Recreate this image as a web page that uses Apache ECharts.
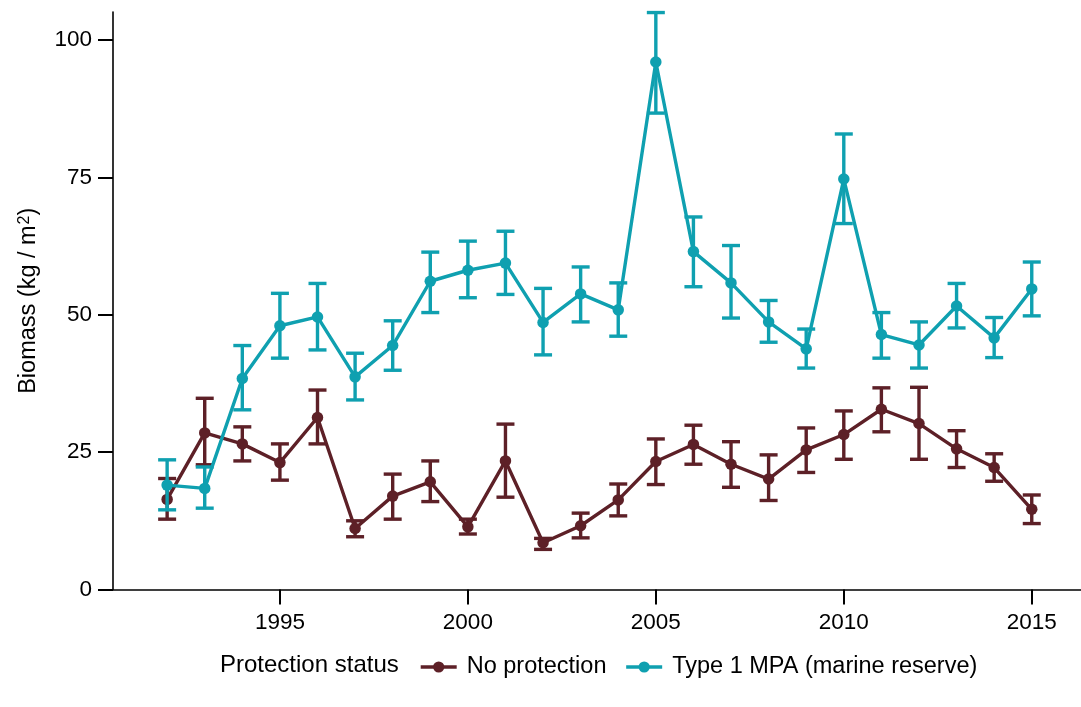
<!DOCTYPE html>
<html>
<head>
<meta charset="utf-8">
<script src="https://cdn.jsdelivr.net/npm/echarts@6/dist/echarts.min.js"></script>
<style>
  html, body { margin: 0; padding: 0; background: #fff; }
  #chart { width: 1081px; height: 707px; }
</style>
</head>
<body>
<div id="chart"></div>
<script>
// Survey years
const years = [1992, 1993, 1994, 1995, 1996, 1997, 1998, 1999, 2000, 2001, 2002, 2003,
               2004, 2005, 2006, 2007, 2008, 2009, 2010, 2011, 2012, 2013, 2014, 2015];

// No protection: mean biomass and error bar limits (kg / m²)
const noProtMean  = [16.4, 28.5, 26.5, 23.1, 31.3, 11.1, 17.0, 19.6, 11.4, 23.4, 8.5, 11.6,
                     16.3, 23.3, 26.4, 22.8, 20.1, 25.4, 28.2, 32.8, 30.2, 25.6, 22.2, 14.6];
const noProtUpper = [20.2, 34.8, 29.6, 26.5, 36.3, 12.5, 21.0, 23.4, 12.8, 30.1, 9.3, 13.9,
                     19.2, 27.4, 29.9, 26.9, 24.5, 29.4, 32.5, 36.7, 36.8, 28.9, 24.7, 17.2];
const noProtLower = [12.8, 22.7, 23.4, 19.9, 26.5, 9.6, 12.8, 16.0, 10.1, 16.8, 7.3, 9.4,
                     13.4, 19.1, 22.8, 18.6, 16.2, 21.3, 23.7, 28.7, 23.7, 22.2, 19.7, 12.0];

// Type 1 MPA (marine reserve): mean biomass and error bar limits (kg / m²)
const mpaMean  = [19.0, 18.4, 38.4, 48.0, 49.6, 38.7, 44.4, 56.1, 58.1, 59.4, 48.6, 53.8,
                  50.9, 96.0, 61.5, 55.8, 48.7, 43.8, 74.7, 46.4, 44.5, 51.6, 45.8, 54.7];
const mpaUpper = [23.6, 22.3, 44.4, 53.9, 55.7, 43.0, 48.9, 61.4, 63.4, 65.2, 54.8, 58.7,
                  55.8, 105.0, 67.8, 62.6, 52.6, 47.4, 82.9, 50.4, 48.7, 55.7, 49.5, 59.6];
const mpaLower = [14.5, 14.8, 32.7, 42.1, 43.6, 34.5, 39.9, 50.4, 53.1, 53.7, 42.7, 48.7,
                  46.1, 86.7, 55.1, 49.4, 45.0, 40.3, 66.6, 42.1, 40.3, 47.6, 42.2, 49.8];

// Axis ticks
const xTicks = [1995, 2000, 2005, 2010, 2015];
const yTicks = [0, 25, 50, 75, 100];

const groupNames = ['No protection', 'Type 1 MPA (marine reserve)'];
const colors = ['#5d2027', '#0fa0b0'];
const FONT = '"Liberation Sans", Arial, sans-serif';

function pairs(values) {
  return years.map((y, i) => [y, values[i]]);
}
function barData(lower, upper) {
  return years.map((y, i) => [y, lower[i], upper[i]]);
}

// Vertical error bar with horizontal caps
function errorBar(color) {
  return function (params, api) {
    const x = api.value(0);
    const lo = api.coord([x, api.value(1)]);
    const hi = api.coord([x, api.value(2)]);
    const half = 9;
    const style = { stroke: color, lineWidth: 3.4, fill: null };
    return {
      type: 'group',
      children: [
        { type: 'line', shape: { x1: lo[0], y1: lo[1], x2: hi[0], y2: hi[1] }, style: style },
        { type: 'line', shape: { x1: hi[0] - half, y1: hi[1], x2: hi[0] + half, y2: hi[1] }, style: style },
        { type: 'line', shape: { x1: lo[0] - half, y1: lo[1], x2: lo[0] + half, y2: lo[1] }, style: style }
      ]
    };
  };
}

const chart = echarts.init(document.getElementById('chart'), null, { renderer: 'canvas' });

const lineSeries = (name, values, color, z) => ({
  name: name,
  type: 'line',
  data: pairs(values),
  symbol: 'circle',
  symbolSize: 11.5,
  z: z,
  itemStyle: { color: color },
  lineStyle: { color: color, width: 3.4 },
  emphasis: { disabled: true },
  animation: false
});

const barSeries = (name, lower, upper, color, z) => ({
  name: name,
  type: 'custom',
  data: barData(lower, upper),
  renderItem: errorBar(color),
  encode: { x: 0, y: [1, 2] },
  z: z,
  silent: true,
  animation: false
});

chart.setOption({
  backgroundColor: '#ffffff',
  animation: false,
  textStyle: { fontFamily: FONT },
  grid: { left: 113, right: 0, top: 12, bottom: 117.5, containLabel: false },
  xAxis: {
    type: 'value',
    min: 1990.56,
    max: 2016.31,
    splitLine: { show: false },
    axisLine: { show: true, onZero: false, lineStyle: { color: '#000', width: 1.6 } },
    axisTick: { show: true, length: 15, customValues: xTicks, lineStyle: { color: '#000', width: 2 } },
    axisLabel: {
      customValues: xTicks, color: '#000', fontSize: 22.5, margin: 22, fontFamily: FONT,
      formatter: v => String(v)
    }
  },
  yAxis: {
    type: 'value',
    min: 0,
    max: 105.1,
    name: '{t|Biomass (kg / m}{s|2}{t|)}',
    nameLocation: 'middle',
    nameRotate: 90,
    nameGap: 72,
    nameTextStyle: {
      color: '#000', fontSize: 23.5, fontFamily: FONT,
      rich: {
        t: { fontSize: 23.5, fontFamily: FONT, color: '#000', verticalAlign: 'bottom' },
        s: { fontSize: 16, fontFamily: FONT, color: '#000', verticalAlign: 'top', padding: [0, 0, 0, 1] }
      }
    },
    splitLine: { show: false },
    axisLine: { show: true, lineStyle: { color: '#000', width: 1.6 } },
    axisTick: { show: true, length: 15, customValues: yTicks, lineStyle: { color: '#000', width: 2 } },
    axisLabel: { customValues: yTicks, color: '#000', fontSize: 22.5, margin: 21, fontFamily: FONT }
  },
  graphic: [{
    type: 'text',
    left: 220,
    top: 653,
    style: { text: 'Protection status', fill: '#000', font: '24px ' + FONT }
  }],
  legend: {
    data: groupNames,
    left: 414,
    top: 650,
    itemWidth: 36,
    itemHeight: 14,
    itemGap: 18,
    lineStyle: { width: 3.4 },
    textStyle: { color: '#000', fontSize: 23.5, fontFamily: FONT, padding: [0, 0, 0, 5] },
    selectedMode: false
  },
  series: [
    barSeries('No protection bars', noProtLower, noProtUpper, colors[0], 2),
    lineSeries(groupNames[0], noProtMean, colors[0], 3),
    barSeries('MPA bars', mpaLower, mpaUpper, colors[1], 4),
    lineSeries(groupNames[1], mpaMean, colors[1], 5)
  ]
});
</script>
</body>
</html>
